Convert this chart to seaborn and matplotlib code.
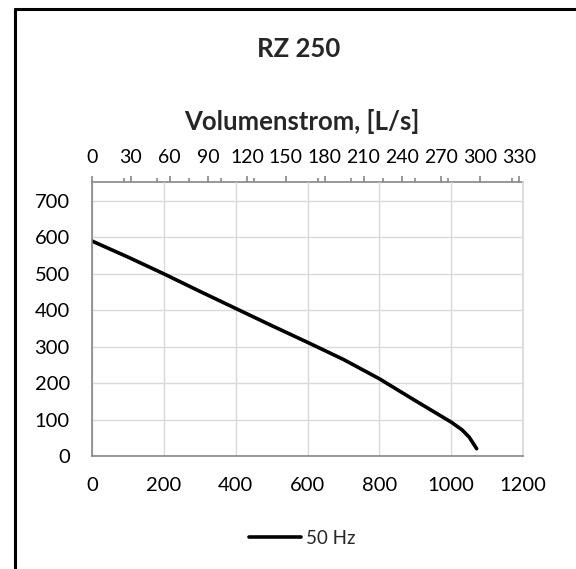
import matplotlib.pyplot as plt
import numpy as np
import pandas as pd
import seaborn as sns
from matplotlib.lines import Line2D
from matplotlib.ticker import MultipleLocator

# ── Daten: Kennlinie RZ 250 bei 50 Hz ───────────────────────────
volumenstrom_m3h = [0, 100, 200, 300, 400, 500, 600, 700, 800, 900, 1000, 1030, 1050, 1071]
druck_pa = [590, 546, 500, 452, 405, 358, 312, 265, 212, 152, 93, 72, 52, 20]

x_ticks = [0, 200, 400, 600, 800, 1000, 1200]
y_ticks = [0, 100, 200, 300, 400, 500, 600, 700]
top_ticks = [0, 30, 60, 90, 120, 150, 180, 210, 240, 270, 300, 330]

df = pd.DataFrame({"Q": volumenstrom_m3h, "p": druck_pa, "serie": "50 Hz"})

sns.set_theme(style="white")
plt.rcParams["font.family"] = ["Lato", "DejaVu Sans"]

GRID = "#d9d9d9"
AXIS = "#868686"

W, H = 576, 569
fig = plt.figure(figsize=(W / 100, H / 100), dpi=100, facecolor="white")

# Plotbereich in Pixeln nachgebaut
left, right, top, bottom = 92, 523, 182, 456
ax = fig.add_axes([left / W, 1 - bottom / H, (right - left) / W, (bottom - top) / H])

sns.lineplot(data=df, x="Q", y="p", ax=ax, color="black", linewidth=2.6,
             legend=False, sort=False)

ax.set_xlim(0, 1200)
ax.set_ylim(0, 752)
ax.set_xticks(x_ticks)
ax.set_yticks(y_ticks)
ax.set_xlabel("")
ax.set_ylabel("")
ax.grid(True, color=GRID, linewidth=1)
ax.tick_params(axis="both", length=0, labelsize=14.5, colors="black")
ax.tick_params(axis="x", pad=15)
ax.tick_params(axis="y", pad=16)

for s in ["left", "bottom"]:
    ax.spines[s].set_color(AXIS)
    ax.spines[s].set_linewidth(1.2)
ax.spines["right"].set_color(GRID)
ax.spines["top"].set_visible(False)

# ── Sekundärachse oben: L/s ─────────────────────────────────────
sec = ax.secondary_xaxis("top", functions=(lambda q: q / 3.6, lambda v: v * 3.6))
sec.set_xticks(top_ticks)
sec.xaxis.set_minor_locator(MultipleLocator(25))
sec.tick_params(axis="x", which="major", length=4.3, width=1.2, colors=AXIS,
                labelcolor="black", labelsize=14, pad=7)
sec.tick_params(axis="x", which="minor", length=3, width=1.2, colors=AXIS)
sec.spines["top"].set_color(AXIS)
sec.spines["top"].set_linewidth(1.2)

fig.text(302 / W, 1 - 121 / H, "Volumenstrom, [L/s]", ha="center", va="center",
         fontsize=18.5, fontweight="bold")
fig.text(299 / W, 1 - 49 / H, "RZ 250", ha="center", va="center",
         fontsize=18.5, fontweight="bold")

# Legende unten
fig.legend(handles=[Line2D([0], [0], color="black", linewidth=2.6)], labels=["50 Hz"],
           loc="center", bbox_to_anchor=(302 / W, 1 - 538 / H), frameon=False,
           fontsize=13.5, handlelength=2.8, handletextpad=0.25)

# Rahmen links und oben
fig.add_artist(Line2D([15 / W, 15 / W], [0, 1 - 9 / H], color="black", linewidth=2.2,
                      transform=fig.transFigure))
fig.add_artist(Line2D([15 / W, 1], [1 - 9 / H, 1 - 9 / H], color="black", linewidth=2.2,
                      transform=fig.transFigure))

fig.savefig("out.png", dpi=100, facecolor="white")
